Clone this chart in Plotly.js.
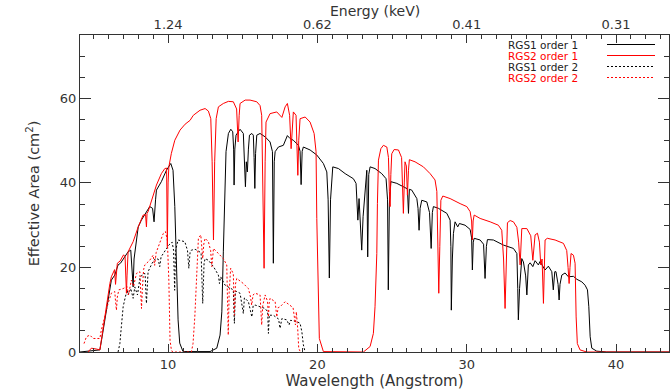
<!DOCTYPE html>
<html>
<head>
<meta charset="utf-8">
<script src="https://cdn.plot.ly/plotly-3.0.1.min.js"></script>
<style>html,body{margin:0;padding:0;background:#fff;}#chart{width:670px;height:391px;}</style>
</head>
<body>
<div id="chart"></div>
<script>
// RGS1 order 1 (black solid)
const rgs1o1_wl = [4.10,4.98,5.43,5.58,5.76,5.93,6.20,6.43,6.65,6.81,7.10,7.32,7.50,7.59,7.66,7.72,7.88,8.00,8.21,8.44,8.77,8.96,9.06,9.16,9.22,9.55,9.89,10.18,10.33,10.45,10.56,10.67,10.78,11.00,12.81,13.26,13.48,13.60,13.70,13.77,13.88,14.04,14.20,14.33,14.39,14.42,14.47,14.55,14.82,15.04,15.12,15.18,15.24,15.31,15.38,15.45,15.61,15.71,15.76,15.81,15.86,15.94,16.16,16.50,16.83,16.99,17.05,17.11,17.17,17.39,17.72,17.99,18.17,18.39,18.73,18.84,18.91,18.98,19.06,19.51,19.96,20.40,20.63,20.72,20.80,20.88,21.03,21.41,21.86,22.41,22.59,22.71,22.79,22.89,22.97,23.06,23.19,23.31,23.37,23.44,23.53,23.86,24.31,24.60,24.70,24.75,24.82,24.92,25.32,25.76,26.03,26.10,26.16,26.32,26.66,26.74,26.81,26.88,26.99,27.33,27.51,27.62,27.70,27.77,28.10,28.67,28.89,28.94,28.97,29.04,29.11,29.22,29.40,29.51,29.89,30.23,30.33,30.38,30.44,30.50,30.90,31.13,31.23,31.32,31.39,31.79,32.46,33.13,33.36,33.42,33.46,33.54,33.69,33.80,33.95,34.03,34.09,34.13,34.25,34.43,34.58,34.80,34.91,35.25,35.47,35.70,35.80,35.90,35.98,36.12,36.19,36.25,36.37,36.59,36.81,37.15,37.38,37.71,37.93,38.09,38.18,38.27,38.38,38.71,39.38,43.55];
const rgs1o1_area = [0,0.3,0.5,3.6,7.6,10.7,17.0,18.2,20.6,21.0,22.5,23.7,24.1,20.0,15.4,22.0,26.5,29.6,31.2,32.4,34.4,34.0,30.8,36.0,38.3,40.3,43.0,44.6,43.0,34.4,18.7,7.6,2.1,0.1,0.1,0.9,4.0,9.5,23.7,35.5,47.4,51.7,52.7,52.1,48.0,39.5,48.0,51.3,52.7,51.7,46.0,39.1,45.0,42.6,48.0,51.3,51.7,51.3,46.0,38.7,47.0,51.3,51.7,50.9,49.7,47.4,21.0,45.0,47.4,48.5,48.9,51.2,50.5,50.1,48.9,47.5,39.6,47.5,48.5,47.8,46.6,44.6,42.6,36.0,17.5,36.0,43.8,43.4,42.2,41.0,39.9,31.2,36.3,30.0,24.1,32.0,39.1,43.0,22.5,42.0,43.8,43.4,42.2,41.0,36.0,14.7,35.0,40.3,39.9,39.1,38.6,32.8,38.5,38.3,36.3,34.0,28.8,34.0,35.9,35.5,33.0,24.5,33.0,34.4,34.0,32.8,31.2,25.0,9.9,22.0,28.0,30.8,29.6,30.4,30.0,29.0,27.0,19.4,26.0,26.9,26.5,25.5,17.4,25.0,26.6,26.5,25.3,24.5,23.3,15.0,7.6,15.0,22.1,21.3,18.0,13.5,18.0,20.6,21.1,20.2,21.6,20.6,21.4,19.4,20.3,19.0,14.7,19.0,19.0,16.0,12.3,16.0,18.2,18.7,17.8,17.9,17.2,16.6,15.8,14.7,10.7,3.6,0.9,0.2,0,0];

// RGS2 order 1 (red solid)
const rgs2o1_wl = [4.64,4.86,5.20,5.43,5.53,5.71,5.93,6.10,6.20,6.32,6.42,6.48,6.55,6.60,6.78,6.92,7.02,7.12,7.17,7.21,7.25,7.32,7.66,8.00,8.33,8.49,8.55,8.59,8.66,8.88,9.22,9.55,9.78,9.90,9.95,10.00,10.05,10.22,10.45,10.80,11.14,11.47,11.69,12.14,12.48,12.70,12.86,12.95,13.04,13.12,13.22,13.37,13.70,14.04,14.37,14.59,14.69,14.76,14.82,15.16,15.49,15.94,16.16,16.27,16.36,16.43,16.50,16.56,16.83,17.28,17.62,17.84,17.99,18.14,18.24,18.31,18.39,18.57,18.64,18.69,18.75,18.84,19.18,19.51,19.78,19.91,19.96,20.03,20.13,20.40,23.08,23.53,23.75,23.86,23.98,24.02,24.09,24.25,24.42,24.65,24.76,24.82,24.87,24.92,24.98,25.14,25.43,25.64,25.71,25.76,25.82,25.87,25.96,26.03,26.10,26.16,26.54,27.10,27.55,27.88,28.00,28.07,28.13,28.20,28.27,28.40,28.89,29.56,30.01,30.23,30.33,30.38,30.43,30.50,30.90,31.57,32.12,32.35,32.47,32.57,32.64,32.73,32.91,33.13,33.36,33.48,33.58,33.64,33.69,34.03,34.29,34.43,34.52,34.58,34.74,34.87,34.96,35.05,35.14,35.20,35.25,35.40,35.92,36.48,36.70,36.79,36.86,36.92,36.99,37.15,37.26,37.33,37.41,37.59,38.04,43.55];
const rgs2o1_area = [0,0.9,0.7,0.5,2.8,7.2,12.3,16.2,17.8,18.6,19.5,16.0,20.0,21.0,21.5,22.5,23.0,22.5,17.0,13.9,18.0,23.7,26.1,29.6,32.4,32.5,29.6,32.8,33.2,35.9,39.5,42.2,43.4,43.5,24.9,40.0,43.8,47.0,50.1,52.5,53.9,54.8,56.0,57.2,57.6,57.0,55.2,45.0,26.5,45.0,55.2,58.0,58.8,59.3,59.2,57.5,49.7,56.0,58.8,59.6,59.6,59.2,58.3,56.0,40.0,19.8,45.0,54.4,56.4,56.8,55.5,58.0,58.8,56.0,48.1,54.0,56.8,56.0,50.0,41.8,50.0,55.2,55.6,54.4,51.7,47.4,31.6,15.8,3.2,0.1,0,1.3,4.4,10.7,23.3,35.1,45.4,48.1,48.9,48.5,46.0,38.0,34.4,42.0,46.9,47.9,47.8,46.0,38.0,32.8,40.0,45.0,44.0,37.1,43.0,45.5,45.0,43.8,42.2,40.7,38.0,25.0,13.9,25.0,35.9,36.9,36.3,35.1,34.4,33.2,31.0,26.5,31.0,32.4,31.6,30.8,30.0,28.8,22.0,10.3,22.0,30.6,31.1,30.8,29.5,26.0,20.6,26.0,29.2,29.2,27.5,21.7,26.0,27.7,28.1,26.0,20.6,22.0,11.5,22.0,26.5,26.9,26.5,25.7,24.0,20.0,16.2,20.0,23.3,22.9,21.0,8.3,2.0,0.5,0,0];

// RGS1 order 2 (black dotted)
const rgs1o2_wl = [6.65,6.77,6.87,6.99,7.14,7.27,7.32,7.50,7.66,7.77,7.95,8.11,8.33,8.46,8.55,8.61,8.66,8.93,9.15,9.33,9.44,9.53,9.60,9.82,10.05,10.27,10.37,10.44,10.50,10.67,11.12,11.30,11.39,11.47,11.56,11.81,12.21,12.32,12.41,12.48,12.70,13.04,13.37,13.44,13.52,13.82,14.37,14.44,14.51,14.60,14.82,15.04,15.11,15.16,15.38,15.61,15.70,15.83,16.16,16.50,16.67,16.72,16.78,16.83,17.05,17.40,17.50,17.57,17.62,17.95,18.10,18.21,18.62,18.84,18.96,19.06,19.18];
const rgs1o2_area = [0,2.0,6.0,10.7,13.1,14.7,13.5,15.0,12.7,15.4,13.5,17.4,18.6,18.5,11.5,18.0,19.0,21.0,22.1,22.0,20.2,22.5,22.9,24.1,25.3,26.0,24.0,14.6,24.0,26.5,26.1,24.0,19.8,23.5,24.1,24.3,23.5,11.5,21.0,22.1,21.7,20.2,18.2,16.2,17.8,15.8,14.7,6.8,14.4,14.3,13.9,9.1,12.8,12.7,11.9,8.3,11.0,11.1,10.7,10.3,9.5,4.4,8.8,8.7,8.7,7.8,5.6,7.8,7.9,7.6,6.4,7.5,7.2,6.8,4.8,1.7,0];

// RGS2 order 2 (red dotted)
const rgs2o2_wl = [4.37,4.53,4.76,4.98,5.43,5.53,5.76,5.98,6.20,6.43,6.48,6.54,6.60,6.70,6.99,7.25,7.35,7.45,7.54,7.69,7.79,7.88,8.11,8.18,8.22,8.28,8.36,8.44,8.77,9.00,9.10,9.20,9.33,9.67,9.82,9.95,10.05,10.13,10.22,10.30,11.56,11.67,11.79,11.90,12.03,12.19,12.26,12.32,12.39,12.48,12.70,12.85,12.93,12.98,13.04,13.37,13.70,13.93,13.99,14.03,14.09,14.19,14.37,14.44,14.51,14.60,15.04,15.38,15.52,15.60,15.69,15.83,16.16,16.21,16.27,16.34,16.50,16.66,16.72,16.77,16.83,17.17,17.28,17.37,17.50,17.84,18.17,18.37,18.53,18.59,18.68,18.75,18.86];
const rgs2o2_area = [2.0,3.6,4.0,3.2,3.2,5.2,8.3,11.5,13.9,14.3,12.0,9.9,13.0,14.7,15.0,15.5,13.5,16.0,17.0,15.5,17.5,18.6,19.0,15.0,10.3,15.0,19.5,20.6,21.7,22.9,20.5,23.5,24.9,28.0,28.5,26.5,17.0,2.8,0.5,0,0,2.0,8.3,17.0,26.9,27.7,25.0,22.1,25.5,26.9,26.1,24.0,20.2,23.5,24.5,23.3,22.1,20.6,12.0,4.0,14.0,19.8,18.5,8.7,16.0,17.4,16.2,15.0,13.0,11.1,13.5,13.9,13.5,9.0,6.4,11.0,13.5,12.0,8.3,11.5,12.7,11.9,8.3,10.5,10.7,11.9,11.1,10.5,6.4,9.5,5.6,0.9,0];

const xTickVals = [10, 20, 30, 40];
const energyLabels = ['1.24', '0.62', '0.41', '0.31'];
const legendNames = ['RGS1 order 1', 'RGS2 order 1', 'RGS1 order 2', 'RGS2 order 2'];
const legendColors = ['rgb(0,0,0)', 'rgb(255,0,0)', 'rgb(0,0,0)', 'rgb(255,0,0)'];
const legendTextColors = ['#222222', 'rgb(255,0,0)', '#222222', 'rgb(255,0,0)'];
const DOT = '2px,2px';
const legendDash = ['solid', 'solid', DOT, DOT];

const XR = [4.10, 43.55];
const YR = [0, 75];
const FONT = 'DejaVu Sans, sans-serif';
const AX = '#333333';
const TXT = '#333333';

const traces = [
  {x: rgs1o2_wl, y: rgs1o2_area, name: legendNames[2], mode: 'lines', line: {color: legendColors[2], width: 1, dash: DOT}},
  // drawn on the top (energy) axis, which spans the same wavelength range
  {x: rgs2o2_wl, y: rgs2o2_area, name: legendNames[3], xaxis: 'x2', mode: 'lines', line: {color: legendColors[3], width: 1, dash: DOT}},
  {x: rgs1o1_wl, y: rgs1o1_area, name: legendNames[0], mode: 'lines', line: {color: legendColors[0], width: 1}},
  {x: rgs2o1_wl, y: rgs2o1_area, name: legendNames[1], mode: 'lines', line: {color: legendColors[1], width: 1}}
];

// IDL-style legend: text, then line sample to its right
const annotations = [];
const shapes = [];
const L = 80, T = 35, W = 589, H = 317;
const rowY = [44.5, 55.5, 66.5, 77.5];
legendNames.forEach((n, i) => {
  const yp = (T + H - rowY[i]) / H;
  annotations.push({xref: 'paper', yref: 'paper', x: (507 - L) / W, y: yp, xanchor: 'left', yanchor: 'middle',
    text: n, showarrow: false, borderpad: 0,
    font: {family: FONT, size: 10.5, color: legendTextColors[i]}});
  shapes.push({type: 'line', layer: 'above', xref: 'paper', yref: 'paper', x0: (607 - L) / W, x1: (655 - L) / W, y0: yp, y1: yp,
    line: {color: legendColors[i], width: 1, dash: legendDash[i]}});
});
annotations.push({xref: 'paper', yref: 'paper', x: 0.5, y: 1, yshift: 15, xanchor: 'center', yanchor: 'bottom',
  text: 'Energy (keV)', showarrow: false, borderpad: 0, font: {family: FONT, size: 14, color: TXT}});

const layout = {
  width: 670, height: 391,
  margin: {l: 80, r: 1, t: 35, b: 39, pad: 0},
  paper_bgcolor: '#fff', plot_bgcolor: '#fff',
  showlegend: false,
  font: {family: FONT, size: 13, color: TXT},
  xaxis: {range: XR, showgrid: false, zeroline: false, showline: true, linecolor: AX, linewidth: 1,
    ticks: 'inside', ticklen: 8, tickcolor: AX, tickvals: xTickVals,
    minor: {dtick: 1, ticks: 'inside', ticklen: 4, tickcolor: AX, showgrid: false},
    tickfont: {family: FONT, size: 13, color: TXT},
    title: {text: 'Wavelength (Angstrom)', font: {family: FONT, size: 15, color: TXT}, standoff: 3}},
  xaxis2: {range: XR, overlaying: 'x', side: 'top', anchor: 'y', showgrid: false, zeroline: false,
    showline: true, linecolor: AX, linewidth: 1, ticks: 'inside', ticklen: 8, tickcolor: AX,
    tickvals: xTickVals, ticktext: energyLabels,
    minor: {dtick: 1, ticks: 'inside', ticklen: 4, tickcolor: AX, showgrid: false},
    tickfont: {family: FONT, size: 13, color: TXT}},
  yaxis: {range: YR, showgrid: false, zeroline: false, showline: true, linecolor: AX, linewidth: 1,
    mirror: 'ticks', ticks: 'inside', ticklen: 11, tickcolor: AX, tickvals: [0, 20, 40, 60],
    minor: {dtick: 5, ticks: 'inside', ticklen: 5, tickcolor: AX, showgrid: false},
    tickfont: {family: FONT, size: 13, color: TXT},
    title: {text: 'Effective Area (cm<sup>2</sup>)', font: {family: FONT, size: 14.5, color: TXT}, standoff: 16}},
  annotations: annotations,
  shapes: shapes
};

Plotly.newPlot('chart', traces, layout, {staticPlot: true, displayModeBar: false});
</script>
</body>
</html>
